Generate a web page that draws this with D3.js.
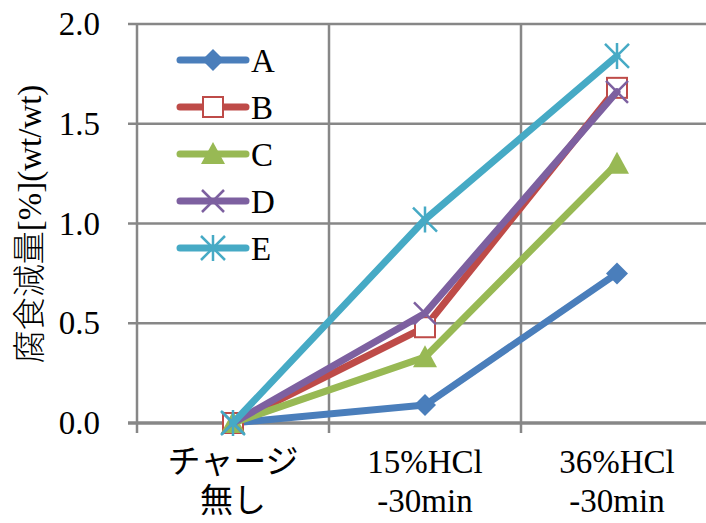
<!DOCTYPE html>
<html>
<head>
<meta charset="utf-8">
<script src="https://cdn.jsdelivr.net/npm/d3@7"></script>
<style>
  html, body { margin: 0; padding: 0; background: #fff; }
  svg { display: block; }
  text { font-family: "Liberation Serif", "Noto Sans CJK JP", serif; fill: #000; }
</style>
</head>
<body>
<svg id="chart" width="706" height="523"></svg>
<script>
// Categories (two-line labels) and series values
const categories = ["c0", "c1", "c2"];
const categoryLabels = [["チャージ", "無し"], ["15%HCl", "-30min"], ["36%HCl", "-30min"]];
const seriesNames = ["A", "B", "C", "D", "E"];
const valuesA = [0, 0.09, 0.75];
const valuesB = [0, 0.48, 1.68];
const valuesC = [0, 0.33, 1.30];
const valuesD = [0, 0.55, 1.66];
const valuesE = [0, 1.02, 1.84];
const yTicks = [0, 0.5, 1.0, 1.5, 2.0];
const yTitle = "腐食減量[%](wt/wt)";

const seriesColors = ["#4a7ebb", "#be4b48", "#98b954", "#7d60a0", "#46aac5"];
const markerTypes = ["diamond", "square", "triangle", "x", "star"];
const seriesValues = [valuesA, valuesB, valuesC, valuesD, valuesE];

const svg = d3.select("#chart");
const plotLeft = 137, plotTop = 24, plotBottom = 423, bandWidth = 192;
const fontSize = 33;

const x = d3.scaleBand().domain(categories).range([plotLeft, plotLeft + bandWidth * categories.length]);
const y = d3.scaleLinear().domain([0, 2]).range([plotBottom, plotTop]);
const gridColor = "#878787";

// horizontal gridlines
svg.append("g").selectAll("line").data(yTicks.filter(d => d > 0)).join("line")
  .attr("x1", plotLeft - 9).attr("x2", 706)
  .attr("y1", d => y(d)).attr("y2", d => y(d))
  .attr("stroke", gridColor).attr("stroke-width", 2.5);

// vertical gridlines at category boundaries
svg.append("g").selectAll("line").data(categories.slice(1)).join("line")
  .attr("x1", d => x(d)).attr("x2", d => x(d))
  .attr("y1", plotTop).attr("y2", plotBottom + 10)
  .attr("stroke", gridColor).attr("stroke-width", 2.5);

// y axis line and zero baseline
svg.append("line").attr("x1", plotLeft).attr("x2", plotLeft)
  .attr("y1", plotTop).attr("y2", plotBottom + 10)
  .attr("stroke", gridColor).attr("stroke-width", 2.5);
svg.append("line").attr("x1", plotLeft - 9).attr("x2", 706)
  .attr("y1", y(0)).attr("y2", y(0))
  .attr("stroke", gridColor).attr("stroke-width", 3.5);

// y tick labels
svg.append("g").selectAll("text").data(yTicks).join("text")
  .attr("x", 100).attr("y", d => y(d) + 11)
  .attr("text-anchor", "end").attr("font-size", fontSize)
  .text(d => d.toFixed(1));

// x category labels
const xl = svg.append("g").selectAll("text").data(categories).join("text")
  .attr("text-anchor", "middle").attr("font-size", fontSize)
  .attr("x", d => x(d) + bandWidth / 2);
xl.each(function(d, i) {
  const t = d3.select(this);
  categoryLabels[i].forEach((line, j) => {
    t.append("tspan").attr("x", x(d) + bandWidth / 2).attr("y", 473 + j * 39).text(line);
  });
});

// y axis title
svg.append("text")
  .attr("transform", "translate(41,224) rotate(-90)")
  .attr("text-anchor", "middle").attr("font-size", fontSize)
  .attr("font-weight", 300)
  .text(yTitle);

// marker drawing
function drawMarker(g, type, color, cx, cy) {
  const s = 11;
  if (type === "diamond") {
    g.append("path").attr("d", `M${cx},${cy - s}L${cx + s},${cy}L${cx},${cy + s}L${cx - s},${cy}Z`).attr("fill", color);
  } else if (type === "square") {
    g.append("rect").attr("x", cx - 10).attr("y", cy - 10).attr("width", 20).attr("height", 20)
      .attr("fill", "#fff").attr("stroke", color).attr("stroke-width", 2);
  } else if (type === "triangle") {
    g.append("path").attr("d", `M${cx},${cy - 12}L${cx + 12},${cy + 10}L${cx - 12},${cy + 10}Z`).attr("fill", color);
  } else if (type === "x") {
    g.append("path").attr("d", `M${cx - 11},${cy - 11}L${cx + 11},${cy + 11}M${cx - 11},${cy + 11}L${cx + 11},${cy - 11}`)
      .attr("stroke", color).attr("stroke-width", 2.5).attr("fill", "none");
  } else if (type === "star") {
    g.append("path").attr("d", `M${cx - 12},${cy - 12}L${cx + 12},${cy + 12}M${cx - 12},${cy + 12}L${cx + 12},${cy - 12}M${cx},${cy - 13}L${cx},${cy + 13}`)
      .attr("stroke", color).attr("stroke-width", 2.5).attr("fill", "none");
  }
}

const line = d3.line().x((d, i) => x(categories[i]) + bandWidth / 2).y(d => y(d));

seriesValues.forEach((vals, si) => {
  const g = svg.append("g");
  g.append("path").datum(vals).attr("d", line)
    .attr("fill", "none").attr("stroke", seriesColors[si]).attr("stroke-width", 7)
    .attr("stroke-linejoin", "round").attr("stroke-linecap", "round");
  vals.forEach((v, i) => drawMarker(g, markerTypes[si], seriesColors[si], x(categories[i]) + bandWidth / 2, y(v)));
});

// legend
const legend = svg.append("g");
seriesNames.forEach((name, i) => {
  const ly = 60 + i * 47;
  legend.append("line").attr("x1", 180).attr("x2", 246).attr("y1", ly).attr("y2", ly)
    .attr("stroke", seriesColors[i]).attr("stroke-width", 7).attr("stroke-linecap", "round");
  drawMarker(legend, markerTypes[i], seriesColors[i], 213, ly);
  legend.append("text").attr("x", 251).attr("y", ly + 12).attr("font-size", fontSize).text(name);
});
</script>
</body>
</html>
